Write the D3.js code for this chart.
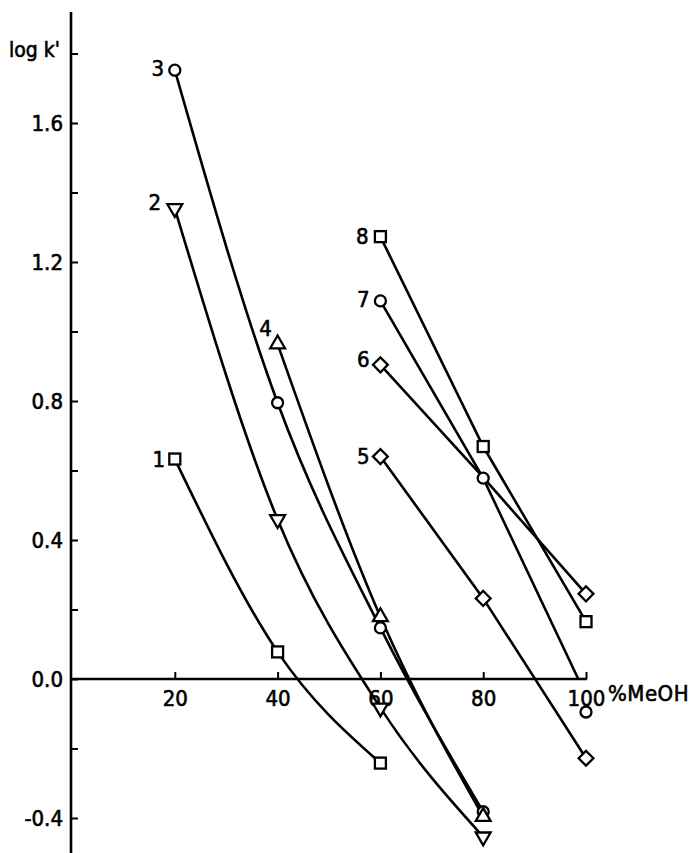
<!DOCTYPE html>
<html>
<head>
<meta charset="utf-8">
<script src="https://cdn.jsdelivr.net/npm/d3@7"></script>
<style>
  html, body { margin: 0; padding: 0; background: #fff; }
  svg { display: block; }
  text { font-family: "DejaVu Sans Condensed", "DejaVu Sans", sans-serif; fill: #000; stroke: #000; stroke-width: 0.6px; }
</style>
</head>
<body>
<svg id="chart" width="698" height="853"></svg>
<script>
// ---- data ----
const xTicks = [20, 40, 60, 80, 100];
const yTicksMajor = [-0.4, 0.0, 0.4, 0.8, 1.2, 1.6];
const yTicksMinor = [-0.2, 0.2, 0.6, 1.0, 1.4, 1.8];
const yTickLabels = ["-0.4", "0.0", "0.4", "0.8", "1.2", "1.6"];
const xLabel = "%MeOH";
const yLabel = "log k'";

const series1 = [[20, 0.633], [40, 0.078], [60, -0.242]];
const series2 = [[20, 1.354], [40, 0.459], [60, -0.083], [80, -0.454]];
const series3 = [[20, 1.752], [40, 0.795], [60, 0.147], [80, -0.382]];
const series4 = [[40, 0.964], [60, 0.179], [80, -0.396]];
const series5 = [[60, 0.640], [80, 0.232], [100, -0.228]];
const series6 = [[60, 0.904], [80, 0.580], [100, 0.245]];
const series7 = [[60, 1.088], [80, 0.578], [100, -0.095]];
const series7Line = [[60, 1.088], [80, 0.578], [98.5, 0.0]];
const series8 = [[60, 1.273], [80, 0.669], [100, 0.165]];

const seriesNames = ["1", "2", "3", "4", "5", "6", "7", "8"];

// ---- chart ----
const svg = d3.select("#chart");
const x = d3.scaleLinear().domain([0, 100]).range([72, 586]);
const y = d3.scaleLinear().domain([-0.4, 1.6]).range([818, 123]);

const series = [
  { name: seriesNames[0], pts: series1, line: series1, shape: "square", curve: d3.curveMonotoneX, lab: [-16, 0] },
  { name: seriesNames[1], pts: series2, line: series2, shape: "tdown", curve: d3.curveMonotoneX, lab: [-20, -6] },
  { name: seriesNames[2], pts: series3, line: series3, shape: "circle", curve: d3.curveMonotoneX, lab: [-17, -2] },
  { name: seriesNames[3], pts: series4, line: series4, shape: "tup", curve: d3.curveMonotoneX, lab: [-12, -16] },
  { name: seriesNames[4], pts: series5, line: series5, shape: "diamond", curve: d3.curveLinear, lab: [-17, -1] },
  { name: seriesNames[5], pts: series6, line: series6, shape: "diamond", curve: d3.curveLinear, lab: [-17, -6], skip: [80] },
  { name: seriesNames[6], pts: series7, line: series7Line, shape: "circle", curve: d3.curveLinear, lab: [-17, -2] },
  { name: seriesNames[7], pts: series8, line: series8, shape: "square", curve: d3.curveLinear, lab: [-18, -1] }
];

// axes lines
const axisW = 2.6;
svg.append("line").attr("x1", x(0) - 1).attr("x2", x(0) - 1).attr("y1", 12).attr("y2", 853)
  .attr("stroke", "#000").attr("stroke-width", axisW);
svg.append("line").attr("x1", x(0) - 1).attr("x2", x(100) + 1).attr("y1", y(0)).attr("y2", y(0))
  .attr("stroke", "#000").attr("stroke-width", axisW);

// y axis ticks
const yAxis = d3.axisLeft(y)
  .tickValues(yTicksMajor.concat(yTicksMinor))
  .tickSize(-7)
  .tickPadding(8)
  .tickFormat(d => {
    const i = yTicksMajor.findIndex(v => Math.abs(v - d) < 1e-9);
    return i >= 0 ? yTickLabels[i] : "";
  });
const gy = svg.append("g").attr("transform", `translate(${x(0) - 1},0)`).call(yAxis);
gy.select(".domain").remove();
gy.selectAll(".tick line").attr("stroke", "#000").attr("stroke-width", 2);
gy.selectAll(".tick text").style("font-size", "22px")
  .attr("font-family", null).attr("dy", "0.36em");

// x axis ticks
const xAxis = d3.axisBottom(x).tickValues(xTicks).tickSize(-7).tickPadding(11);
const gx = svg.append("g").attr("transform", `translate(0,${y(0)})`).call(xAxis);
gx.select(".domain").remove();
gx.selectAll(".tick line").attr("stroke", "#000").attr("stroke-width", 2);
gx.selectAll(".tick text").style("font-size", "22px").attr("font-family", null);

// axis labels
svg.append("text").attr("x", x(100) + 22).attr("y", y(0) + 22)
  .style("font-size", "22px").style("letter-spacing", "0.5px").text(xLabel);
svg.append("text").attr("x", 9).attr("y", 57)
  .style("font-size", "21px").text(yLabel);

// lines
const lineGen = c => d3.line().x(d => x(d[0])).y(d => y(d[1])).curve(c);
series.forEach(s => {
  svg.append("path").attr("d", lineGen(s.curve)(s.line))
    .attr("fill", "none").attr("stroke", "#000").attr("stroke-width", 2.6);
});

// markers
function drawMarker(g, shape, cx, cy) {
  const common = el => el.attr("fill", "#fff").attr("stroke", "#000").attr("stroke-width", 2.3);
  if (shape === "circle") {
    common(g.append("circle").attr("cx", cx).attr("cy", cy).attr("r", 5.5));
  } else if (shape === "square") {
    common(g.append("rect").attr("x", cx - 5.5).attr("y", cy - 5.5).attr("width", 11).attr("height", 11));
  } else if (shape === "diamond") {
    common(g.append("path").attr("d", d3.symbol().type(d3.symbolSquare).size(110)())
      .attr("transform", `translate(${cx},${cy}) rotate(45)`));
  } else if (shape === "tup") {
    common(g.append("path").attr("d", d3.symbol().type(d3.symbolTriangle).size(95)())
      .attr("transform", `translate(${cx},${cy})`));
  } else if (shape === "tdown") {
    common(g.append("path").attr("d", d3.symbol().type(d3.symbolTriangle).size(95)())
      .attr("transform", `translate(${cx},${cy}) rotate(180)`));
  }
}
const gm = svg.append("g");
series.forEach(s => {
  s.pts.forEach(p => {
    if (s.skip && s.skip.includes(p[0])) return;
    drawMarker(gm, s.shape, x(p[0]), y(p[1]));
  });
  const p0 = s.pts[0];
  svg.append("text").attr("x", x(p0[0]) + s.lab[0]).attr("y", y(p0[1]) + s.lab[1])
    .attr("text-anchor", "middle").attr("dy", "0.36em")
    .style("font-size", "22px").text(s.name);
});
</script>
</body>
</html>
